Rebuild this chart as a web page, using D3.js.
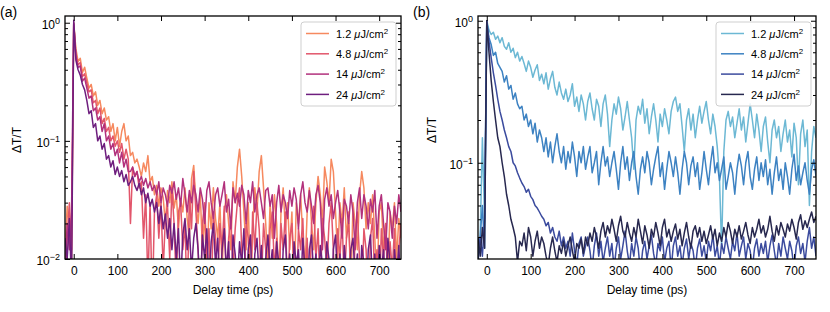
<!DOCTYPE html>
<html><head><meta charset="utf-8">
<script src="https://cdn.jsdelivr.net/npm/d3@7"></script>
<style>body{margin:0;background:#fff}svg{font-family:"Liberation Sans",Arial,Helvetica,sans-serif;display:block}</style>
</head><body><svg id="c" width="830" height="312"></svg>
<script>
// ---------- DATA ----------
const time = [-20,-15,-10,-5,0,5,10,15,20,25,30,35,40,45,50,55,60,65,70,75,80,85,90,95,100,105,110,115,120,125,130,135,140,145,150,155,160,165,170,175,180,185,190,195,200,205,210,215,220,225,230,235,240,245,250,255,260,265,270,275,280,285,290,295,300,305,310,315,320,325,330,335,340,345,350,355,360,365,370,375,380,385,390,395,400,405,410,415,420,425,430,435,440,445,450,455,460,465,470,475,480,485,490,495,500,505,510,515,520,525,530,535,540,545,550,555,560,565,570,575,580,585,590,595,600,605,610,615,620,625,630,635,640,645,650,655,660,665,670,675,680,685,690,695,700,705,710,715,720,725,730,735,740,745,750];

const seriesNames = ["1.2", "4.8", "14", "24"];
const xTicks = [0,100,200,300,400,500,600,700];
const yTicksA = [1, 0.1, 0.01];
const yTicksB = [1, 0.1];

// panel (a)
const a12 = [0.012,0.028,0.018,0.009,1.0,0.6,0.47,0.5,0.38,0.42,
0.34,0.28,0.3,0.24,0.26,0.2,0.22,0.17,0.19,0.15,
0.16,0.12,0.14,0.1,0.13,0.09,0.12,0.14,0.1,0.11,
0.075,0.08,0.065,0.07,0.06,0.05,0.065,0.055,0.075,0.045,
0.05,0.035,0.042,0.028,0.04,0.033,0.02,0.038,0.03,0.045,
0.027,0.035,0.018,0.032,0.025,0.04,0.022,0.015,0.048,0.062,
0.03,0.02,0.035,0.012,0.025,0.006,0.03,0.018,0.04,0.022,
0.015,0.03,0.008,0.025,0.035,0.02,0.012,0.045,0.03,0.06,
0.085,0.05,0.025,0.012,0.03,0.005,0.018,0.04,0.025,0.055,
0.075,0.04,0.02,0.008,0.03,0.015,0.035,0.02,0.006,0.025,
0.04,0.018,0.03,0.012,0.025,0.005,0.03,0.02,0.035,0.015,
0.008,0.025,0.04,0.02,0.012,0.03,0.05,0.035,0.02,0.06,
0.045,0.03,0.07,0.055,0.025,0.01,0.03,0.02,0.04,0.015,
0.025,0.005,0.03,0.02,0.012,0.035,0.055,0.04,0.018,0.03,
0.02,0.035,0.015,0.006,0.025,0.03,0.012,0.02,0.008,0.025,
0.018,0.03,0.01,0.022,0.015];

const a48 = [0.006,0.015,0.03,0.012,0.97,0.55,0.44,0.46,0.35,0.37,
0.31,0.26,0.27,0.21,0.22,0.17,0.19,0.14,0.155,0.12,
0.13,0.1,0.11,0.09,0.1,0.08,0.095,0.07,0.085,0.07,
0.02,0.06,0.05,0.055,0.04,0.045,0.015,0.035,0.006,0.03,
0.004,0.025,0.035,0.015,0.03,0.008,0.022,0.028,0.01,0.04,
0.02,0.006,0.025,0.03,0.012,0.02,0.004,0.035,0.018,0.055,
0.025,0.012,0.004,0.02,0.03,0.01,0.018,0.004,0.025,0.015,
0.006,0.02,0.012,0.028,0.005,0.015,0.022,0.008,0.018,0.03,
0.04,0.012,0.005,0.02,0.015,0.004,0.025,0.012,0.03,0.018,
0.006,0.02,0.012,0.004,0.018,0.025,0.008,0.015,0.004,0.02,
0.012,0.025,0.005,0.015,0.02,0.008,0.004,0.018,0.012,0.022,
0.006,0.015,0.004,0.02,0.028,0.01,0.018,0.005,0.022,0.015,
0.008,0.02,0.03,0.012,0.004,0.018,0.01,0.022,0.006,0.015,
0.02,0.008,0.004,0.016,0.025,0.01,0.005,0.018,0.012,0.004,
0.015,0.022,0.006,0.012,0.004,0.018,0.01,0.02,0.005,0.014,
0.008,0.018,0.004,0.012,0.02];

const a14 = [0.008,0.02,0.012,0.025,0.99,0.52,0.42,0.43,0.32,0.34,
0.28,0.23,0.24,0.18,0.19,0.15,0.16,0.12,0.14,0.1,
0.11,0.085,0.095,0.075,0.085,0.065,0.08,0.06,0.07,0.055,
0.055,0.06,0.05,0.055,0.045,0.05,0.042,0.048,0.04,0.045,
0.038,0.042,0.035,0.045,0.03,0.04,0.035,0.028,0.042,0.036,
0.045,0.032,0.04,0.028,0.048,0.035,0.025,0.038,0.03,0.042,
0.035,0.025,0.04,0.032,0.02,0.038,0.045,0.03,0.022,0.035,
0.04,0.028,0.035,0.045,0.025,0.032,0.018,0.04,0.03,0.036,
0.028,0.042,0.035,0.02,0.038,0.03,0.045,0.025,0.035,0.04,
0.03,0.022,0.038,0.04,0.028,0.035,0.015,0.03,0.042,0.025,
0.035,0.03,0.022,0.038,0.028,0.04,0.032,0.018,0.035,0.045,
0.03,0.025,0.038,0.028,0.02,0.035,0.042,0.03,0.012,0.032,
0.04,0.028,0.035,0.022,0.03,0.038,0.025,0.015,0.032,0.028,
0.02,0.035,0.025,0.012,0.03,0.04,0.022,0.035,0.028,0.018,
0.032,0.025,0.038,0.015,0.028,0.035,0.02,0.012,0.03,0.025,
0.015,0.028,0.02,0.035,0.025];

const a24 = [0.015,0.01,0.022,0.006,1.05,0.48,0.4,0.36,0.3,0.27,
0.22,0.17,0.18,0.13,0.14,0.1,0.11,0.085,0.095,0.07,
0.075,0.06,0.068,0.052,0.06,0.05,0.056,0.045,0.052,0.042,
0.045,0.05,0.042,0.038,0.044,0.035,0.04,0.03,0.036,0.028,
0.032,0.025,0.03,0.02,0.028,0.018,0.024,0.015,0.022,0.012,
0.02,0.01,0.018,0.006,0.016,0.022,0.012,0.018,0.008,0.015,
0.02,0.012,0.005,0.016,0.01,0.018,0.006,0.014,0.02,0.009,
0.015,0.005,0.012,0.018,0.008,0.014,0.004,0.016,0.011,0.006,
0.014,0.009,0.018,0.005,0.012,0.016,0.004,0.011,0.015,0.007,
0.013,0.004,0.01,0.016,0.008,0.012,0.005,0.014,0.009,0.004,
0.012,0.016,0.006,0.011,0.004,0.014,0.009,0.012,0.005,0.015,
0.008,0.004,0.012,0.016,0.007,0.011,0.004,0.013,0.009,0.005,
0.014,0.01,0.004,0.012,0.016,0.006,0.011,0.004,0.013,0.008,
0.005,0.012,0.015,0.007,0.011,0.004,0.013,0.009,0.004,0.012,
0.016,0.006,0.011,0.004,0.013,0.008,0.012,0.005,0.015,0.009,
0.004,0.012,0.007,0.013,0.005];

// panel (b)
const b12 = [0.025,0.03,0.15,0.04,1.0,0.86,0.8,0.83,0.74,0.78,
0.7,0.76,0.66,0.63,0.7,0.6,0.64,0.55,0.6,0.52,
0.56,0.5,0.44,0.52,0.47,0.4,0.45,0.49,0.38,0.42,
0.36,0.43,0.33,0.39,0.44,0.34,0.3,0.37,0.31,0.28,
0.33,0.27,0.3,0.36,0.25,0.29,0.23,0.3,0.26,0.2,
0.27,0.31,0.24,0.2,0.28,0.25,0.18,0.26,0.3,0.22,
0.13,0.2,0.26,0.22,0.29,0.24,0.17,0.21,0.27,0.2,
0.15,0.09,0.2,0.25,0.22,0.28,0.19,0.24,0.16,0.21,
0.26,0.2,0.14,0.22,0.18,0.24,0.2,0.16,0.23,0.27,
0.29,0.23,0.26,0.18,0.12,0.2,0.24,0.17,0.22,0.15,
0.2,0.25,0.19,0.23,0.27,0.2,0.16,0.22,0.18,0.13,
0.08,0.025,0.12,0.2,0.23,0.18,0.21,0.15,0.19,0.24,
0.17,0.21,0.14,0.19,0.26,0.2,0.15,0.22,0.17,0.12,
0.18,0.21,0.14,0.1,0.17,0.2,0.15,0.18,0.12,0.16,
0.2,0.14,0.17,0.11,0.19,0.15,0.07,0.16,0.2,0.13,
0.17,0.05,0.12,0.18,0.15];

const b48 = [0.022,0.03,0.05,0.025,1.0,0.76,0.68,0.57,0.6,0.5,
0.47,0.44,0.37,0.41,0.33,0.35,0.28,0.31,0.26,0.24,
0.25,0.2,0.22,0.18,0.2,0.16,0.19,0.14,0.17,0.15,
0.12,0.15,0.11,0.14,0.1,0.13,0.16,0.12,0.1,0.13,
0.09,0.12,0.1,0.14,0.11,0.08,0.12,0.1,0.13,0.09,
0.11,0.13,0.085,0.1,0.12,0.07,0.1,0.13,0.095,0.11,
0.08,0.1,0.12,0.09,0.065,0.1,0.13,0.09,0.11,0.075,
0.1,0.12,0.08,0.06,0.09,0.11,0.085,0.12,0.1,0.07,
0.09,0.11,0.13,0.08,0.1,0.065,0.09,0.12,0.1,0.08,
0.11,0.085,0.06,0.09,0.12,0.1,0.07,0.095,0.11,0.08,
0.1,0.065,0.085,0.12,0.09,0.07,0.1,0.13,0.085,0.1,
0.075,0.09,0.11,0.065,0.08,0.1,0.085,0.06,0.09,0.115,
0.095,0.07,0.1,0.12,0.08,0.065,0.09,0.11,0.075,0.1,
0.08,0.105,0.07,0.09,0.06,0.085,0.11,0.075,0.09,0.065,
0.1,0.08,0.06,0.09,0.115,0.075,0.095,0.07,0.085,0.1,
0.075,0.06,0.09,0.105,0.08];

const b14 = [0.02,0.03,0.022,0.04,1.0,0.72,0.55,0.43,0.35,0.28,
0.23,0.2,0.17,0.15,0.13,0.12,0.1,0.095,0.085,0.078,
0.072,0.068,0.062,0.065,0.058,0.055,0.05,0.048,0.045,0.042,
0.04,0.036,0.038,0.032,0.035,0.03,0.028,0.033,0.026,0.03,
0.025,0.028,0.022,0.032,0.024,0.019,0.027,0.03,0.022,0.026,
0.03,0.024,0.018,0.026,0.032,0.022,0.028,0.02,0.025,0.03,
0.022,0.027,0.018,0.025,0.03,0.021,0.026,0.033,0.024,0.019,
0.027,0.022,0.03,0.025,0.017,0.024,0.028,0.021,0.026,0.031,
0.023,0.019,0.027,0.024,0.03,0.02,0.025,0.028,0.018,0.026,
0.03,0.022,0.026,0.019,0.025,0.029,0.021,0.027,0.024,0.018,
0.025,0.029,0.022,0.026,0.02,0.028,0.024,0.031,0.022,0.026,
0.019,0.027,0.023,0.03,0.025,0.021,0.028,0.024,0.032,0.022,
0.026,0.03,0.021,0.027,0.024,0.018,0.025,0.029,0.022,0.027,
0.023,0.028,0.02,0.026,0.031,0.024,0.019,0.027,0.022,0.03,
0.025,0.021,0.028,0.024,0.018,0.026,0.03,0.023,0.027,0.02,
0.028,0.035,0.025,0.03,0.022];

const b24 = [0.03,0.022,0.035,0.025,1.0,0.6,0.38,0.27,0.2,0.15,
0.13,0.1,0.08,0.06,0.05,0.04,0.035,0.03,0.02,0.028,
0.026,0.032,0.024,0.035,0.03,0.022,0.028,0.033,0.025,0.03,
0.027,0.022,0.019,0.025,0.03,0.024,0.02,0.026,0.023,0.028,
0.022,0.026,0.03,0.024,0.02,0.027,0.025,0.029,0.023,0.03,
0.026,0.032,0.028,0.035,0.03,0.025,0.033,0.038,0.03,0.036,
0.032,0.04,0.034,0.028,0.036,0.042,0.033,0.03,0.038,0.032,
0.028,0.035,0.03,0.04,0.033,0.027,0.036,0.031,0.025,0.034,
0.03,0.038,0.032,0.026,0.035,0.04,0.03,0.034,0.028,0.033,
0.037,0.029,0.034,0.026,0.032,0.038,0.03,0.025,0.033,0.036,
0.03,0.035,0.028,0.033,0.027,0.031,0.036,0.029,0.034,0.026,
0.032,0.028,0.035,0.03,0.038,0.033,0.027,0.034,0.03,0.036,
0.029,0.033,0.038,0.031,0.027,0.035,0.03,0.034,0.04,0.032,
0.036,0.03,0.034,0.042,0.033,0.028,0.036,0.031,0.038,0.034,
0.03,0.037,0.033,0.04,0.035,0.029,0.038,0.043,0.034,0.039,
0.035,0.04,0.045,0.038,0.042];

const colorsA = ["#f6895f", "#e2566b", "#b2317c", "#6e1e7e"];
const colorsB = ["#6cb8d4", "#3d82c2", "#3b4b9e", "#27284f"];

// ---------- DRAW ----------
const svg = d3.select("#c");
const FONT = '"Liberation Sans",Arial,Helvetica,sans-serif';

function supText(sel, base, exp, size) {
  sel.text(base);
  sel.append("tspan").attr("dy", -5).attr("font-size", size).text(exp);
}

function drawPanel(p) {
  const x = d3.scaleLinear().domain([-20, 750]).range([p.left, p.right]);
  const y = d3.scaleLog().domain(p.ydom).range([p.bottom, p.top]);
  const g = svg.append("g");

  svg.append("clipPath").attr("id", "clip" + p.id)
    .append("rect").attr("x", p.left).attr("y", p.top)
    .attr("width", p.right - p.left).attr("height", p.bottom - p.top);

  const line = d3.line()
    .x((d, i) => x(time[i]))
    .y(d => y(Math.max(d, 1e-4)));

  const lg = g.append("g").attr("clip-path", `url(#clip${p.id})`);
  p.series.forEach((s, k) => {
    lg.append("path").datum(s).attr("d", line)
      .attr("fill", "none").attr("stroke", p.colors[k])
      .attr("stroke-width", 1.5).attr("stroke-linejoin", "round");
  });

  const [lo, hi] = p.ydom;
  const minors = [];
  for (let e = -3; e <= 0; e++) for (let m = 2; m <= 9; m++) {
    const v = m * Math.pow(10, e);
    if (v > lo && v < hi) minors.push(v);
  }

  function styleAxis(ag) {
    ag.select(".domain").remove();
    ag.selectAll("line").attr("stroke", "#000").attr("stroke-width", 1);
    ag.attr("font-family", FONT).attr("font-size", 12);
    ag.selectAll("text").attr("fill", "#000");
  }

  const xb = g.append("g").attr("transform", `translate(0,${p.bottom})`)
    .call(d3.axisBottom(x).tickValues(xTicks).tickSize(-5).tickPadding(7).tickFormat(d3.format("d")));
  styleAxis(xb);
  const xtp = g.append("g").attr("transform", `translate(0,${p.top})`)
    .call(d3.axisTop(x).tickValues(xTicks).tickSize(-5).tickFormat(""));
  styleAxis(xtp);

  const yl = g.append("g").attr("transform", `translate(${p.left},0)`)
    .call(d3.axisLeft(y).tickValues(p.yticks).tickSize(-5).tickPadding(5).tickFormat(""));
  styleAxis(yl);
  yl.selectAll(".tick text").each(function(d) {
    const e = Math.round(Math.log10(d));
    d3.select(this).attr("dy", "0.45em");
    supText(d3.select(this), "10", e === 0 ? "0" : "\u2212" + (-e), 9);
  });
  const ylm = g.append("g").attr("transform", `translate(${p.left},0)`)
    .call(d3.axisLeft(y).tickValues(minors).tickSize(-3).tickFormat(""));
  styleAxis(ylm);
  const yr = g.append("g").attr("transform", `translate(${p.right},0)`)
    .call(d3.axisRight(y).tickValues(p.yticks).tickSize(-5).tickFormat(""));
  styleAxis(yr);
  const yrm = g.append("g").attr("transform", `translate(${p.right},0)`)
    .call(d3.axisRight(y).tickValues(minors).tickSize(-3).tickFormat(""));
  styleAxis(yrm);

  g.append("rect").attr("x", p.left).attr("y", p.top)
    .attr("width", p.right - p.left).attr("height", p.bottom - p.top)
    .attr("fill", "none").attr("stroke", "#000").attr("stroke-width", 1.3);

  g.append("text").attr("x", (p.left + p.right) / 2).attr("y", 294)
    .attr("text-anchor", "middle").attr("font-size", 12).attr("font-family", FONT)
    .text("Delay time (ps)");
  g.append("text").attr("transform", `translate(${p.ylabX},${p.ylabY}) rotate(-90)`)
    .attr("text-anchor", "middle").attr("dy", "0.35em").attr("font-size", 12).attr("font-family", FONT)
    .text("\u0394T/T");
  g.append("text").attr("x", p.tagX).attr("y", 17).attr("font-size", 14).attr("font-family", FONT)
    .text(p.tag);

  const bw = 95, bh = 84;
  const bx = p.right - 5 - bw, by = 22;
  const leg = g.append("g");
  leg.append("rect").attr("x", bx).attr("y", by).attr("width", bw).attr("height", bh)
    .attr("rx", 3).attr("fill", "#fff").attr("fill-opacity", 0.85)
    .attr("stroke", "#cfcfcf").attr("stroke-width", 1);
  seriesNames.forEach((n, k) => {
    const yy = by + 11.5 + k * 20.3;
    leg.append("line").attr("x1", bx + 5).attr("x2", bx + 28).attr("y1", yy).attr("y2", yy)
      .attr("stroke", p.colors[k]).attr("stroke-width", 1.5);
    const t = leg.append("text").attr("x", bx + 35).attr("y", yy).attr("dy", "0.38em")
      .attr("font-size", 11).attr("font-family", FONT);
    t.append("tspan").text(n + " ");
    t.append("tspan").attr("font-style", "italic").text("\u03bc");
    t.append("tspan").text("J/cm");
    t.append("tspan").attr("dy", -4).attr("font-size", 8).text("2");
  });
}

drawPanel({id: "a", left: 65, right: 401, top: 16, bottom: 259, ydom: [0.01, 1.14], yticks: yTicksA,
  series: [a12, a48, a14, a24], colors: colorsA, ylabX: 17, ylabY: 140, tag: "(a)", tagX: 0});
drawPanel({id: "b", left: 478, right: 816, top: 16, bottom: 259, ydom: [0.021, 1.08], yticks: yTicksB,
  series: [b12, b48, b14, b24], colors: colorsB, ylabX: 432, ylabY: 130, tag: "(b)", tagX: 413});
</script></body></html>
